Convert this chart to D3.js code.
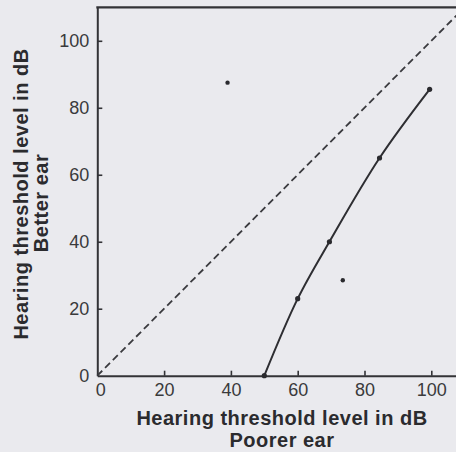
<!DOCTYPE html>
<html>
<head>
<meta charset="utf-8">
<script src="https://cdn.jsdelivr.net/npm/d3@7/dist/d3.min.js"></script>
<style>
  html, body { margin: 0; padding: 0; background: #eaeaee; }
  svg { display: block; }
  text { font-family: "Liberation Sans", Arial, Helvetica, sans-serif; }
</style>
</head>
<body>
<svg id="chart" width="456" height="452"></svg>
<script>
// ---- data ----
const xTicks = [0, 20, 40, 60, 80, 100];
const yTicks = [0, 20, 40, 60, 80, 100];
// line of equality (dashed)
const equalityX = [0, 110];
const equalityY = [0, 110];
// measured curve: poorer ear vs better ear
const curveX = [50, 60, 69.5, 84.5, 99.5];
const curveY = [0, 23, 40, 65, 85.5];
// isolated points
const scatterX = [39, 73.5];
const scatterY = [87.5, 28.5];
const xTitle = ["Hearing threshold level in dB", "Poorer ear"];
const yTitle = ["Hearing threshold level in dB", "Better ear"];

const svg = d3.select("#chart");
const x = d3.scaleLinear().domain([0, 110]).range([97.3, 464.7]);
const y = d3.scaleLinear().domain([0, 110]).range([375.7, 7.3]);
const ink = "#333336";

// axes
const xAxis = d3.axisBottom(x).tickValues(xTicks).tickSizeInner(-5).tickSizeOuter(0).tickPadding(8);
const yAxis = d3.axisLeft(y).tickValues(yTicks).tickSizeInner(-5).tickSizeOuter(0).tickPadding(8);

const gx = svg.append("g").attr("transform", `translate(0,${y(0)})`).call(xAxis);
const gy = svg.append("g").attr("transform", `translate(${x(0)},0)`).call(yAxis);

[gx, gy].forEach(g => {
  g.attr("font-size", null).attr("font-family", null);
  g.select(".domain").attr("stroke", ink).attr("stroke-width", 2);
  g.selectAll(".tick line").attr("stroke", ink).attr("stroke-width", 1.6);
  g.selectAll(".tick text").attr("fill", "#3a3a3c").style("font-size", "18px")
    .style("font-family", '"Liberation Sans", Arial, sans-serif');
  g.selectAll(".tick").filter(d => d === 0).select("line").remove();
});
gx.selectAll(".tick").filter(d => d === 0).select("text").attr("dx", 3);

// top frame line
svg.append("line")
  .attr("x1", x(0) - 1).attr("x2", x(110))
  .attr("y1", y(110)).attr("y2", y(110))
  .attr("stroke", ink).attr("stroke-width", 2.2);

// dashed equality line
const eq = equalityX.map((v, i) => [v, equalityY[i]]);
svg.append("path")
  .datum(eq)
  .attr("d", d3.line().x(d => x(d[0])).y(d => y(d[1])))
  .attr("fill", "none").attr("stroke", "#3a3a3e")
  .attr("stroke-width", 1.8).attr("stroke-dasharray", "7,4");

// solid curve
const pts = curveX.map((v, i) => [v, curveY[i]]);
svg.append("path")
  .datum(pts)
  .attr("d", d3.line().x(d => x(d[0])).y(d => y(d[1])).curve(d3.curveCatmullRom.alpha(0.5)))
  .attr("fill", "none").attr("stroke", "#2e2e32").attr("stroke-width", 2);

svg.selectAll("circle.pt")
  .data(pts)
  .join("circle").attr("class", "pt")
  .attr("cx", d => x(d[0])).attr("cy", d => y(d[1]))
  .attr("r", 2.6).attr("fill", "#2a2a2e");

const sc = scatterX.map((v, i) => [v, scatterY[i]]);
svg.selectAll("circle.sc")
  .data(sc)
  .join("circle").attr("class", "sc")
  .attr("cx", d => x(d[0])).attr("cy", d => y(d[1]))
  .attr("r", 2.2).attr("fill", "#2a2a2e");

// axis titles
const xt = svg.append("text")
  .attr("text-anchor", "middle")
  .attr("fill", "#2b2b2e")
  .style("font-size", "20px").style("font-weight", "bold").style("letter-spacing", "0.5px");
xt.append("tspan").attr("x", 282).attr("y", 425).text(xTitle[0]);
xt.append("tspan").attr("x", 282).attr("y", 447).text(xTitle[1]);

const yt = svg.append("text")
  .attr("text-anchor", "middle")
  .attr("fill", "#2b2b2e")
  .attr("transform", "rotate(-90)")
  .style("font-size", "20px").style("font-weight", "bold").style("letter-spacing", "0.5px");
yt.append("tspan").attr("x", -194).attr("y", 28).text(yTitle[0]);
yt.append("tspan").attr("x", -203).attr("y", 48).text(yTitle[1]);
</script>
</body>
</html>
